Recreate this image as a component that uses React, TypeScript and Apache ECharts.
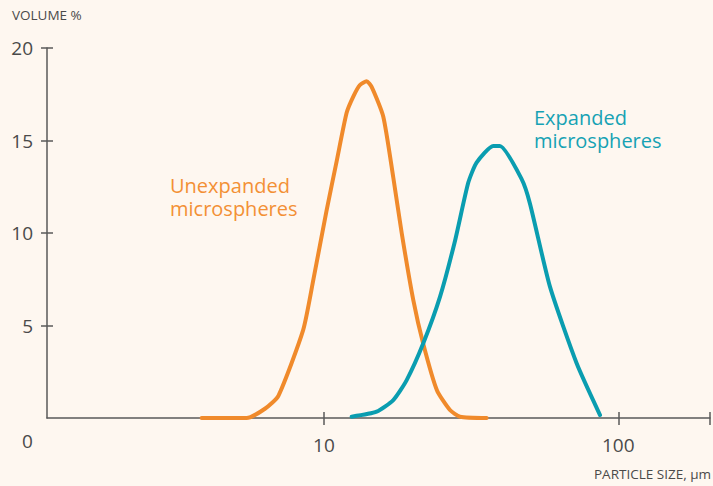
import React, { useEffect, useRef } from "react";
import * as echarts from "echarts";

// Particle size (µm) and volume %
const unexpandedSize = [3.84, 5.46, 6.3, 7.0, 8.5, 9.2, 10.2, 11.05, 11.94, 12.6, 13.25, 13.96, 14.52, 15.9, 17.2, 18.37, 20.1, 21.75, 24.2, 26.8, 29.0, 35.7];
const unexpandedVol = [0, 0, 0.5, 1.2, 4.76, 7.46, 11.2, 13.9, 16.5, 17.4, 18.0, 18.2, 17.9, 16.3, 13.0, 10.0, 6.4, 4.0, 1.5, 0.43, 0.07, 0];

const expandedSize = [12.42, 15.1, 17.2, 19.1, 21.75, 24.8, 27.9, 30.9, 33.0, 37.6, 39.6, 47.0, 50.1, 58.6, 72.2, 86.7];
const expandedVol = [0.07, 0.34, 0.97, 2.05, 4.04, 6.56, 9.6, 12.7, 13.8, 14.7, 14.7, 12.9, 11.6, 7.1, 2.96, 0.16];

const xTickSizes = [10, 100];
const yTicks = [5, 10, 15, 20];
const xMinSize = 1.145;
const xMaxSize = 205;

const ORANGE = "#F08A2B";
const TEAL = "#0A9DB0";
const AXIS = "#5a5a5a";
const TEXT = "#4a4a4a";
const FONT = "'Open Sans', Lato, sans-serif";

export default function App() {
  const ref = useRef<HTMLDivElement>(null);
  useEffect(() => {
    if (!ref.current) return;
    const chart = echarts.init(ref.current, null, { renderer: "svg" });
    const lmin = Math.log10(xMinSize);
    const lmax = Math.log10(xMaxSize);
    const xTickVals = xTickSizes.map((v) => Math.log10(v));
    const toPts = (s: number[], v: number[]) => s.map((x, i) => [Math.log10(x), v[i]]);
    const baseX = {
      type: "value" as const,
      min: lmin,
      max: lmax,
      position: "bottom" as const,
      splitLine: { show: false },
    };
    const baseY = {
      type: "value" as const,
      min: 0,
      max: 20,
      interval: 5,
      position: "left" as const,
      splitLine: { show: false },
    };
    chart.setOption({
      animation: false,
      backgroundColor: "#FEF7F0",
      grid: { left: 47, right: 3, top: 48, bottom: 68 },
      xAxis: [
        {
          ...baseX,
          axisLine: { show: true, lineStyle: { color: AXIS, width: 1.5 } },
          axisTick: { show: true, inside: true, length: 6, customValues: [...xTickVals, lmax], lineStyle: { color: AXIS, width: 1.5 } },
          axisLabel: {
            show: true,
            customValues: xTickVals,
            formatter: (v: number) => String(Math.round(Math.pow(10, v))),
            color: TEXT,
            fontSize: 19,
            fontFamily: FONT,
            margin: 17,
          },
        },
        {
          ...baseX,
          axisLine: { show: false },
          axisTick: { show: true, inside: false, length: 7, customValues: [...xTickVals, lmax], lineStyle: { color: AXIS, width: 1.5 } },
          axisLabel: { show: false },
        },
      ],
      yAxis: [
        {
          ...baseY,
          axisLine: { show: true, lineStyle: { color: AXIS, width: 1.5 } },
          axisTick: { show: true, inside: true, length: 6, customValues: yTicks, lineStyle: { color: AXIS, width: 1.5 } },
          axisLabel: {
            show: true,
            customValues: yTicks,
            color: TEXT,
            fontSize: 19,
            fontFamily: FONT,
            margin: 14,
          },
        },
        {
          ...baseY,
          axisLine: { show: false },
          axisTick: { show: true, inside: false, length: 6, customValues: yTicks, lineStyle: { color: AXIS, width: 1.5 } },
          axisLabel: { show: false },
        },
      ],
      series: [
        {
          type: "line",
          data: toPts(unexpandedSize, unexpandedVol),
          showSymbol: false,
          smooth: 0.2,
          lineStyle: { color: ORANGE, width: 4, cap: "round", join: "round" },
          xAxisIndex: 0,
          yAxisIndex: 0,
        },
        {
          type: "line",
          data: toPts(expandedSize, expandedVol),
          showSymbol: false,
          smooth: 0.2,
          lineStyle: { color: TEAL, width: 4, cap: "round", join: "round" },
          xAxisIndex: 0,
          yAxisIndex: 0,
        },
      ],
      graphic: [
        { type: "text", left: 12, top: 8, style: { text: "VOLUME %", fill: TEXT, font: `500 13.5px ${FONT}` } },
        { type: "text", right: 2, top: 467, style: { text: "PARTICLE SIZE, µm", fill: TEXT, font: `500 13.5px ${FONT}` } },
        { type: "text", left: 22, top: 431, style: { text: "0", fill: TEXT, font: `19px ${FONT}` } },
        { type: "text", left: 170, top: 174, style: { text: "Unexpanded", fill: "#F39035", font: `20px ${FONT}`, lineHeight: 22 } },
        { type: "text", left: 170, top: 197, style: { text: "microspheres", fill: "#F39035", font: `20px ${FONT}`, lineHeight: 22 } },
        { type: "text", left: 534, top: 106, style: { text: "Expanded", fill: "#16A2B4", font: `20px ${FONT}`, lineHeight: 22 } },
        { type: "text", left: 534, top: 129, style: { text: "microspheres", fill: "#16A2B4", font: `20px ${FONT}`, lineHeight: 22 } },
      ],
    });
    return () => chart.dispose();
  }, []);
  return <div ref={ref} style={{ width: 713, height: 486, position: "absolute", left: 0, top: 0 }} />;
}
